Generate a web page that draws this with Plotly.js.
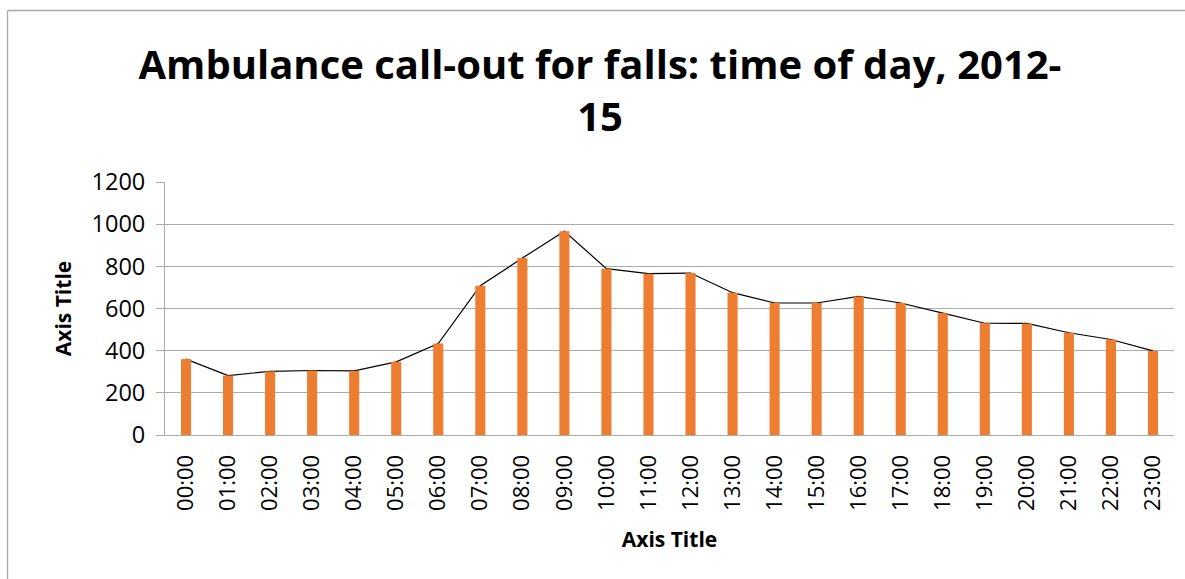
<!DOCTYPE html>
<html>
<head>
<meta charset="utf-8">
<script src="https://cdn.plot.ly/plotly-3.0.1.min.js"></script>
<style>
  html, body { margin: 0; padding: 0; background: #fff; }
  #chart { width: 1185px; height: 579px; }
</style>
</head>
<body>
<div id="chart"></div>
<script>
// ---- data ----
const hours = ['00:00','01:00','02:00','03:00','04:00','05:00','06:00','07:00','08:00','09:00','10:00','11:00',
               '12:00','13:00','14:00','15:00','16:00','17:00','18:00','19:00','20:00','21:00','22:00','23:00'];
const callouts = [360, 282, 302, 306, 304, 347, 434, 708, 839, 966, 789, 765,
                  768, 675, 626, 626, 657, 626, 578, 530, 529, 485, 453, 399];
const yTicks = [0, 200, 400, 600, 800, 1000, 1200];

const chartTitle = 'Ambulance call-out for falls: time of day, 2012-<br>15';
const xTitle = 'Axis Title';
const yTitle = 'Axis Title';

// ---- layout constants ----
const W = 1185, H = 579;
const M = { l: 165, r: 11, t: 182, b: 144 };
const pw = W - M.l - M.r, ph = H - M.t - M.b;
const px2x = p => (p - M.l) / pw;
const py2y = p => (H - M.b - p) / ph;

const grey = '#ababab';
const frameGrey = '#a8a8a8';
const FONT = '"Open Sans", "Liberation Sans", sans-serif';

const lineTrace = {
  type: 'scatter', mode: 'lines',
  x: hours, y: callouts,
  xaxis: 'x', yaxis: 'y',
  line: { color: '#000000', width: 1.2 },
  hoverinfo: 'skip'
};
const barTrace = {
  type: 'bar',
  x: hours, y: callouts,
  xaxis: 'x2', yaxis: 'y2',
  marker: { color: '#ED7D31', line: { width: 0 } },
  hoverinfo: 'skip'
};

const layout = {
  width: W, height: H,
  margin: M,
  paper_bgcolor: '#ffffff', plot_bgcolor: '#ffffff',
  showlegend: false,
  hovermode: false,
  bargap: 0.76,
  font: { family: FONT, color: '#000000' },
  title: {
    text: chartTitle,
    font: { family: FONT, size: 40, weight: 'bold', color: '#000000' },
    xref: 'container', x: 600 / W, xanchor: 'center',
    yref: 'container', y: 1 - 79 / H, yanchor: 'top'
  },
  xaxis: {
    type: 'category',
    range: [-0.5, hours.length - 0.5],
    showgrid: false, zeroline: false,
    showline: true, linecolor: grey, linewidth: 1,
    ticks: '', tickangle: -90,
    ticklabelstandoff: 10,
    tickfont: { family: FONT, size: 22, color: '#000000' },
    title: { text: xTitle, standoff: 22, font: { family: FONT, size: 21, weight: 'bold', color: '#000000' } },
    fixedrange: true
  },
  yaxis: {
    range: [yTicks[0], yTicks[yTicks.length - 1]],
    tickvals: yTicks,
    showgrid: true, gridcolor: grey, gridwidth: 1,
    zeroline: false,
    showline: true, linecolor: grey, linewidth: 1,
    ticks: 'outside', ticklen: 8, tickcolor: grey,
    ticklabelstandoff: 6,
    tickfont: { family: FONT, size: 23.5, color: '#000000' },
    title: { text: yTitle, standoff: 14, font: { family: FONT, size: 21, weight: 'bold', color: '#000000' } },
    fixedrange: true
  },
  xaxis2: {
    type: 'category', overlaying: 'x',
    range: [-0.5, hours.length - 0.5],
    visible: false, fixedrange: true
  },
  yaxis2: {
    overlaying: 'y',
    range: [yTicks[0], yTicks[yTicks.length - 1]],
    visible: false, fixedrange: true
  },
  shapes: [
    { type: 'line', xref: 'paper', yref: 'paper', layer: 'above',
      x0: px2x(7.5), x1: px2x(7.5), y0: py2y(10.5), y1: py2y(H + 5),
      line: { color: frameGrey, width: 1.3 } },
    { type: 'line', xref: 'paper', yref: 'paper', layer: 'above',
      x0: px2x(7.5), x1: px2x(W + 5), y0: py2y(10.5), y1: py2y(10.5),
      line: { color: frameGrey, width: 1.3 } }
  ]
};

Plotly.newPlot('chart', [lineTrace, barTrace], layout, { staticPlot: true, displayModeBar: false });
</script>
</body>
</html>
